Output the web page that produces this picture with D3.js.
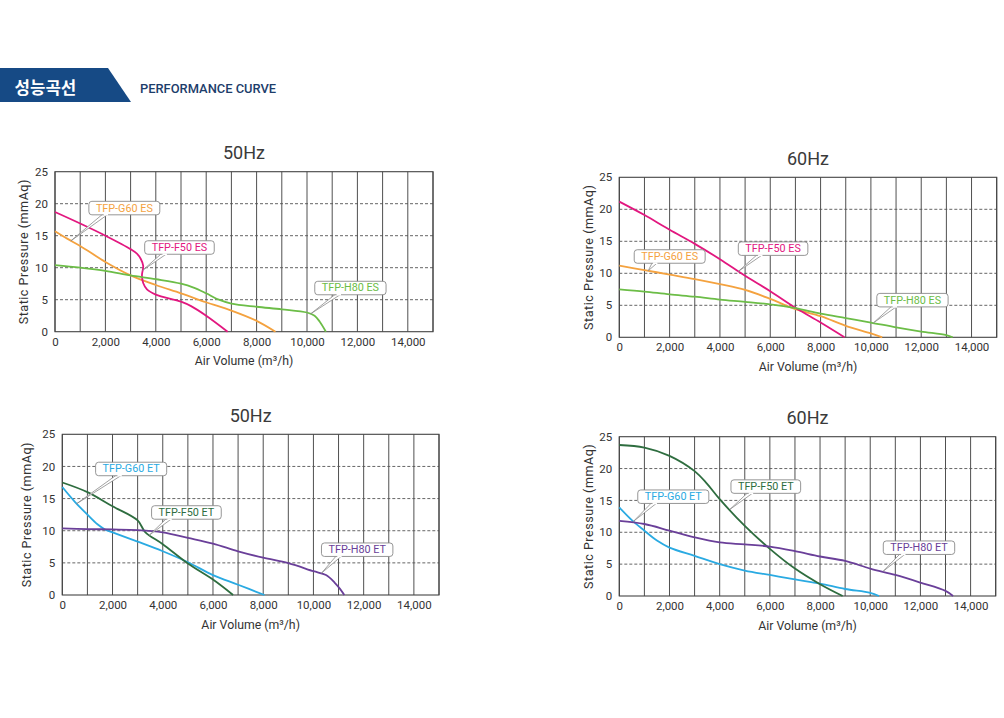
<!DOCTYPE html>
<html><head><meta charset="utf-8">
<script src="https://cdn.jsdelivr.net/npm/d3@7"></script>
<style>body{margin:0;background:#fff} svg{display:block}</style>
</head><body>
<svg id="c" width="1004" height="718"></svg>
<script>
// ---------- DATA ----------
const xTickValues = [0, 2000, 4000, 6000, 8000, 10000, 12000, 14000];
const xGridValues = [0, 1000, 2000, 3000, 4000, 5000, 6000, 7000, 8000, 9000, 10000, 11000, 12000, 13000, 14000, 15000];
const yTickValues = [0, 5, 10, 15, 20, 25];
const yDashValues = [5, 10, 15, 20];
const titles = ["50Hz", "60Hz", "50Hz", "60Hz"];
const namesES = ["TFP-G60 ES", "TFP-F50 ES", "TFP-H80 ES"];
const namesET = ["TFP-G60 ET", "TFP-F50 ET", "TFP-H80 ET"];

// 50Hz ES
const g60es50 = [[0,15.7],[500,14.5],[1000,13.4],[2000,10.9],[3000,8.8],[4000,7.3],[5000,6.0],[6000,4.6],[7000,3.3],[8000,1.7],[8750,0]];
const f50es50 = [[0,18.7],[1000,16.9],[2000,15.0],[3000,12.9],[3250,12.2],[3400,11.4],[3500,10.3],[3450,8.8],[3500,7.6],[3650,6.6],[4000,5.8],[5000,4.7],[5400,4.0],[6000,2.5],[6850,0]];
const h80es50 = [[0,10.4],[1000,10.0],[2000,9.5],[3000,8.8],[4000,8.2],[5000,7.5],[5500,6.9],[6000,6.0],[6500,5.0],[7000,4.4],[8000,3.9],[9000,3.5],[10000,3.0],[10300,2.5],[10500,1.6],[10750,0]];
// 60Hz ES
const g60es60 = [[0,11.2],[1000,10.5],[2000,9.8],[3000,9.1],[4000,8.3],[5000,7.4],[6000,6.0],[7000,4.4],[8000,3.3],[9000,1.8],[10000,0.6],[10450,0]];
const f50es60 = [[0,21.2],[1000,19.1],[2000,16.8],[3000,14.6],[4000,12.2],[5000,9.6],[6000,7.2],[7000,4.6],[8000,2.3],[8950,0]];
const h80es60 = [[0,7.5],[1000,7.15],[2000,6.7],[3000,6.35],[4000,5.9],[5000,5.55],[6000,5.15],[7000,4.55],[8000,3.7],[9000,3.0],[10000,2.3],[11000,1.55],[12000,0.9],[13000,0.35],[13250,0]];
// 50Hz ET
const g60et50 = [[0,16.8],[500,14.5],[1000,12.5],[1400,11.0],[1700,10.2],[2000,9.75],[3000,8.3],[4000,6.8],[5000,5.1],[6000,3.1],[7000,1.6],[8050,0]];
const f50et50 = [[0,17.5],[1000,16.0],[2000,13.8],[3000,11.6],[3300,9.8],[4000,7.9],[5000,4.9],[6000,2.4],[6800,0]];
const h80et50 = [[0,10.35],[1000,10.25],[2000,10.2],[3000,10.1],[4000,9.75],[5000,8.9],[6000,8.0],[7000,6.8],[8000,5.8],[9000,4.95],[10000,3.7],[10500,3.1],[10850,1.9],[11050,1.0],[11230,0]];
// 60Hz ET
const g60et60 = [[0,13.9],[500,11.9],[1000,10.25],[1500,8.7],[2000,7.6],[3000,6.3],[4000,5.0],[5000,4.0],[6000,3.3],[7000,2.6],[8000,1.95],[9000,1.1],[10000,0.5],[10350,0]];
const f50et60 = [[0,23.7],[1000,23.3],[2000,22.0],[3000,19.6],[3500,17.6],[4000,15.2],[5000,11.0],[6000,7.4],[7000,4.3],[8000,1.85],[8900,0]];
const h80et60 = [[0,11.8],[1000,11.3],[2000,10.25],[3000,9.2],[4000,8.4],[5000,8.1],[6000,7.75],[7000,7.05],[8000,6.2],[9000,5.5],[10000,4.3],[11000,3.3],[12000,2.1],[13000,0.8],[13300,0]];

// callout tip points (data units) per panel, in order G60, F50, H80
const tips1 = [[630,14.2],[3480,9.6],[10150,2.8]];
const tips2 = [[1150,10.4],[4730,10.3],[10100,2.25]];
const tips3 = [[570,14.2],[3460,9.3],[10320,3.4]];
const tips4 = [[560,11.7],[4410,13.6],[10520,3.9]];

// ---------- STYLE / LAYOUT ----------
const colES = ["#f4a23f", "#e2177f", "#6cbd47"];
const colET = ["#2aaae2", "#2e6d3f", "#6a3f99"];

const panels = [
  {left:55, right:433, top:171.7, bottom:331.7, title:titles[0], ylx:-32, names:namesES, cols:colES,
   series:[g60es50, f50es50, h80es50], tips:tips1,
   boxes:[{dx:18,dy:-26,b:17},{dx:2,dy:-16,b:20},{dx:4,dy:-19,b:24}]},
  {left:619.3, right:996.7, top:177.3, bottom:337.3, title:titles[1], ylx:-31, names:namesES, cols:colES,
   series:[g60es60, f50es60, h80es60], tips:tips2,
   boxes:[{dx:-14,dy:-7.5,b:21},{dx:0,dy:-16,b:22},{dx:3.4,dy:-16,b:18}]},
  {left:62.3, right:439, top:434.3, bottom:595, title:titles[2], ylx:-35.5, names:namesET, cols:colET,
   series:[g60et50, f50et50, h80et50], tips:tips3,
   boxes:[{dx:19,dy:-28,b:24},{dx:2.4,dy:-16,b:18},{dx:0,dy:-16.7,b:18}]},
  {left:619.3, right:995.7, top:436.7, bottom:596, title:titles[3], ylx:-31, names:namesET, cols:colET,
   series:[g60et60, f50et60, h80et60], tips:tips4,
   boxes:[{dx:4.4,dy:-18,b:17},{dx:1,dy:-16,b:20},{dx:0,dy:-16.7,b:20}]}
];

const svg = d3.select("#c");
const FONT = "Roboto, 'Open Sans', sans-serif";

// ---------- HEADER ----------
svg.append("polygon").attr("points", "0,68 108,68 131,102 0,102").attr("fill", "#164a85");
svg.append("text").attr("x", 14.5).attr("y", 93.5).attr("fill", "#fff")
  .attr("font-family", "'Noto Sans CJK KR', sans-serif").attr("font-weight", 700).attr("font-size", 16.8)
  .text("성능곡선");
svg.append("text").attr("x", 140).attr("y", 93.3).attr("fill", "#1d3d6b")
  .attr("font-family", FONT).attr("font-weight", 500).attr("font-size", 12.9)
  .text("PERFORMANCE CURVE");

// ---------- PANELS ----------
function drawPanel(p) {
  const x = d3.scaleLinear().domain([0, 15000]).range([p.left, p.right]);
  const y = d3.scaleLinear().domain([0, 25]).range([p.bottom, p.top]);
  const g = svg.append("g");

  g.append("text").attr("x", (p.left + p.right) / 2).attr("y", p.top - 12.5)
    .attr("text-anchor", "middle").attr("font-family", FONT).attr("font-size", 18).attr("fill", "#3a3a3a")
    .text(p.title);

  g.selectAll("line.vg").data(xGridValues).join("line").attr("class", "vg")
    .attr("x1", d => x(d)).attr("x2", d => x(d)).attr("y1", p.top).attr("y2", p.bottom)
    .attr("stroke", "#505050").attr("stroke-width", 1);
  g.selectAll("line.hg").data(yDashValues).join("line").attr("class", "hg")
    .attr("x1", p.left).attr("x2", p.right).attr("y1", d => y(d)).attr("y2", d => y(d))
    .attr("stroke", "#555").attr("stroke-width", 0.9).attr("stroke-dasharray", "3,2");
  g.append("rect").attr("x", p.left).attr("y", p.top).attr("width", p.right - p.left).attr("height", p.bottom - p.top)
    .attr("fill", "none").attr("stroke", "#444").attr("stroke-width", 1.1);

  const ax = g.append("g").attr("transform", `translate(0,${p.bottom})`)
    .call(d3.axisBottom(x).tickValues(xTickValues).tickSize(0).tickPadding(6).tickFormat(d3.format(",")));
  ax.select(".domain").remove();
  ax.selectAll("text").attr("font-family", FONT).attr("font-size", 11.5).attr("fill", "#333");

  const ay = g.append("g").attr("transform", `translate(${p.left},0)`)
    .call(d3.axisLeft(y).tickValues(yTickValues).tickSize(0).tickPadding(7));
  ay.select(".domain").remove();
  ay.selectAll("text").attr("font-family", FONT).attr("font-size", 11.5).attr("fill", "#333");

  g.append("text").attr("x", (p.left + p.right) / 2).attr("y", p.bottom + 33.5)
    .attr("text-anchor", "middle").attr("font-family", FONT).attr("font-size", 12.3).attr("fill", "#333")
    .text("Air Volume (m³/h)");
  g.append("text").attr("transform", `translate(${p.left + p.ylx + 4.5},${(p.top + p.bottom) / 2}) rotate(-90)`)
    .attr("text-anchor", "middle").attr("font-family", FONT).attr("font-size", 12.6).attr("fill", "#333")
    .attr("letter-spacing", 0.5)
    .text("Static Pressure (mmAq)");

  const line = d3.line().x(d => x(d[0])).y(d => y(d[1])).curve(d3.curveCatmullRom.alpha(0.5));
  p.series.forEach((s, i) => {
    g.append("path").attr("d", line(s)).attr("fill", "none").attr("stroke", p.cols[i])
      .attr("stroke-width", 1.8).attr("stroke-linejoin", "round");
  });

  p.tips.forEach((t, i) => {
    const bx = p.boxes[i];
    const tx = x(t[0]), ty = y(t[1]);
    const left = tx + bx.dx, bot = ty + bx.dy, h = 13.5;
    const cg = g.append("g");
    const txt = cg.append("text").attr("font-family", FONT).attr("font-size", 10.8).attr("fill", p.cols[i])
      .attr("text-anchor", "middle").text(p.names[i]);
    const w = txt.node().getComputedTextLength() + 14;
    const bxp = left + bx.b;
    cg.insert("rect", "text").attr("x", left).attr("y", bot - h).attr("width", w).attr("height", h)
      .attr("rx", 3).attr("fill", "#fff").attr("stroke", "#8a8a8a").attr("stroke-width", 0.9);
    cg.insert("polygon", "rect").attr("points", `${bxp - 2.8},${bot - 1} ${tx},${ty} ${bxp + 2.8},${bot - 1}`)
      .attr("fill", "#fff").attr("stroke", "#8a8a8a").attr("stroke-width", 0.8).attr("stroke-linejoin", "miter");
    cg.insert("line", "text").attr("x1", bxp - 2.2).attr("x2", bxp + 2.2).attr("y1", bot).attr("y2", bot)
      .attr("stroke", "#fff").attr("stroke-width", 1.6);
    txt.attr("x", left + w / 2).attr("y", bot - 3.3);
  });
}
panels.forEach(drawPanel);
</script>
</body></html>
